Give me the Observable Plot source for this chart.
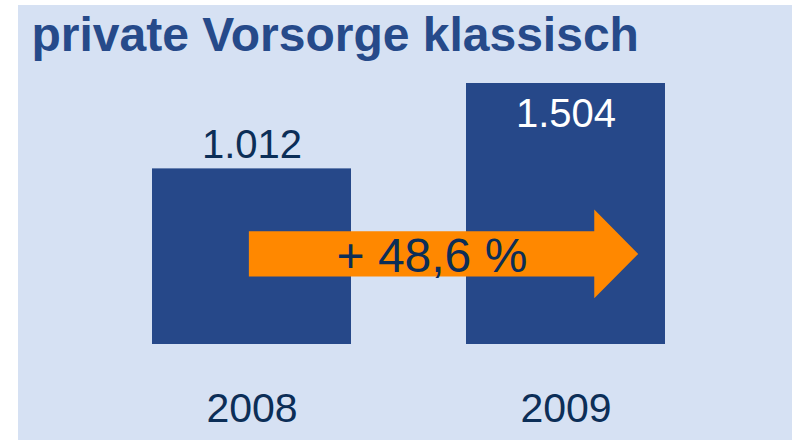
<!DOCTYPE html>
<html>
<head>
<meta charset="utf-8">
<script src="https://cdn.jsdelivr.net/npm/d3@7"></script>
<script src="https://cdn.jsdelivr.net/npm/@observablehq/plot@0.6"></script>
<style>
  html, body { margin: 0; padding: 0; background: #ffffff; }
  #page { position: relative; width: 792px; height: 440px; overflow: hidden; }
  #panel { position: absolute; left: 18px; top: 5px; width: 774px; height: 435px; background: #d6e1f3; }
  #title { height: 65px; box-sizing: border-box; padding: 6px 0 0 13.5px; margin: 0;
    font-family: "Liberation Sans", Arial, sans-serif; font-weight: bold; font-size: 48px; line-height: 48px;
    color: #264a8a; white-space: nowrap; }
  #chart svg { display: block; }
</style>
</head>
<body>
<div id="page">
  <div id="panel">
    <div id="title">private Vorsorge klassisch</div>
    <div id="chart"></div>
  </div>
</div>
<script>
// ---- data ----
const years = [2008, 2009];
const values = [1012, 1504];
const valueLabels = ["1.012", "1.504"];
const yearLabels = ["2008", "2009"];

// ---- derived ----
const data = years.map((y, i) => ({year: y, value: values[i], label: valueLabels[i], yearLabel: yearLabels[i]}));
const maxValue = d3.max(values);
const growth = (values[1] / values[0] - 1) * 100;
const growthLabel = "+ " + d3.format(".1f")(growth).replace(".", ",") + " %";

// arrow annotation (data units)
const arrowStart = years[0] - 0.01;
const arrowHeadBase = years[1] + 0.09;
const arrowTip = years[1] + 0.23;
const arrowLevel = 522;
const bodyHalf = 130;
const headHalf = 256;
const arrowPts = [
  {x: arrowStart, y: arrowLevel - bodyHalf},
  {x: arrowHeadBase, y: arrowLevel - bodyHalf},
  {x: arrowHeadBase, y: arrowLevel - headHalf},
  {x: arrowTip, y: arrowLevel},
  {x: arrowHeadBase, y: arrowLevel + headHalf},
  {x: arrowHeadBase, y: arrowLevel + bodyHalf},
  {x: arrowStart, y: arrowLevel + bodyHalf}
];
const growthPos = [{x: years[0] + 0.573, y: arrowLevel}];

const font = "'Liberation Sans', Arial, sans-serif";
const barColor = "#264889";
const darkText = "#0c2e57";

const chart = Plot.plot({
  width: 774,
  height: 370,
  marginLeft: 76.5,
  marginRight: 69.5,
  marginTop: 13,
  marginBottom: 96,
  style: {background: "transparent", fontFamily: font, overflow: "visible"},
  x: {type: "linear", domain: [years[0] - 0.5, years[1] + 0.5], axis: null},
  y: {domain: [0, maxValue], axis: null},
  marks: [
    Plot.rectY(data, {
      x1: d => d.year - 0.5, x2: d => d.year + 0.5, y: "value",
      insetLeft: 57.5, insetRight: 57.5, fill: barColor
    }),
    Plot.line(arrowPts, {x: "x", y: "y", fill: "#ff8800", stroke: "none"}),
    Plot.text(growthPos, {
      x: "x", y: "y", text: () => growthLabel, lineAnchor: "middle", dy: 3.2,
      fontSize: 48, fontFamily: font, fill: darkText
    }),
    Plot.text(data.filter(d => d.value !== maxValue), {
      x: "year", y: "value", text: "label", lineAnchor: "bottom", dy: -10.5,
      fontSize: 40, fontFamily: font, fill: darkText
    }),
    Plot.text(data.filter(d => d.value === maxValue), {
      x: "year", y: "value", text: "label", lineAnchor: "top", dy: 15.5,
      fontSize: 40, fontFamily: font, fill: "#ffffff"
    }),
    Plot.text(data, {
      x: "year", text: "yearLabel", frameAnchor: "bottom", lineAnchor: "top", dy: 48,
      fontSize: 41, fontFamily: font, fill: darkText
    })
  ]
});
document.getElementById("chart").appendChild(chart);
</script>
</body>
</html>
